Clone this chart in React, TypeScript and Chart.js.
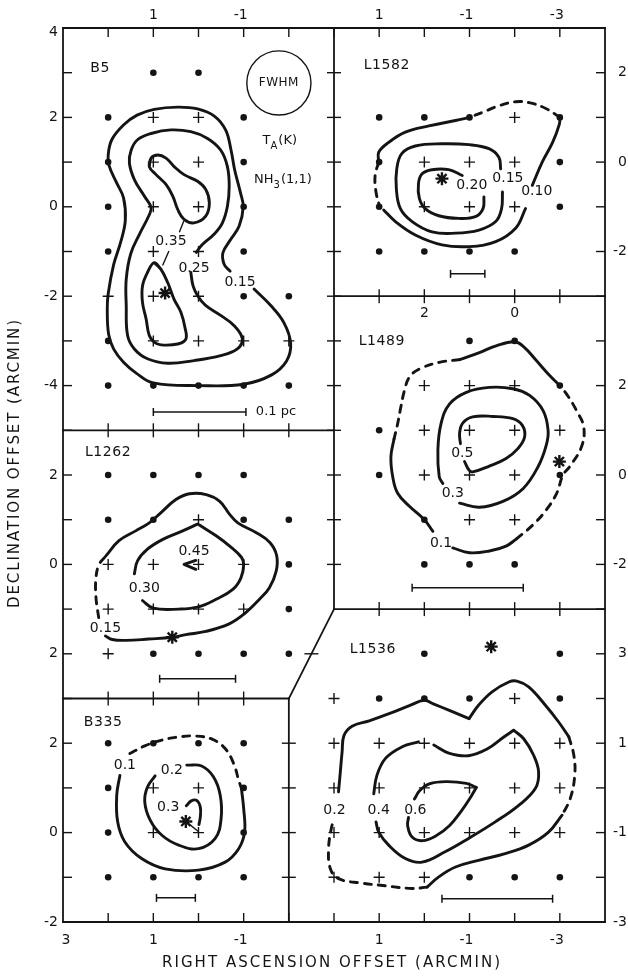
import React, { useEffect, useRef } from "react";
import { Chart, registerables } from "chart.js";

Chart.register(...registerables);

type P = [number, number];
type PanelKey = "B5" | "L1582" | "L1489" | "L1262" | "B335" | "L1536";

const INK = "#141414";
const FONT = '"DejaVu Sans", "Liberation Sans", sans-serif';

// global grid position = offset - local offset (RA increases to the left)
const PANEL_OFFSET: Record<PanelKey, P> = {
  B5: [3, 4],
  L1582: [8, 3],
  L1489: [10, 10],
  L1262: [3, 12],
  B335: [3, 18],
  L1536: [8, 17],
};

// ---------------- B5 ----------------
const B5_DOTS: P[] = [[1, 3], [0, 3], [2, 2], [-1, 2], [2, 1], [-1, 1], [2, 0], [-1, 0], [2, -1], [-1, -1], [-1, -2], [-2, -2], [2, -3], [2, -4], [1, -4], [0, -4], [-1, -4], [-2, -4]];
const B5_PLUS: P[] = [[1, 2], [0, 2], [1, 1], [0, 1], [1, 0], [0, 0], [1, -1], [0, -1], [2, -2], [1, -2], [0, -2], [1, -3], [0, -3], [-1, -3], [-2, -3]];
const B5_STARS: P[] = [[0.74, -1.93]];
const B5_C015: P[] = [[-1.23, -1.84], [-1.6, -2.21], [-1.89, -2.59], [-2.04, -3.05], [-1.95, -3.45], [-1.62, -3.76], [-1.0, -3.97], [0, -4.0], [1.0, -3.94], [1.38, -3.72], [1.66, -3.48], [1.88, -3.18], [1.99, -2.85], [2.02, -2.3], [2.0, -1.95], [1.88, -1.3], [1.72, -0.78], [1.62, -0.3], [1.66, 0.2], [1.82, 0.55], [1.98, 0.92], [2.0, 1.15], [1.92, 1.5], [1.66, 1.83], [1.36, 2.05], [0.98, 2.18], [0.46, 2.23], [0.02, 2.19], [-0.35, 2.03], [-0.6, 1.72], [-0.72, 1.27], [-0.8, 0.83], [-0.93, 0.31], [-0.99, 0], [-0.9, -0.43], [-0.7, -0.75], [-0.54, -1.03], [-0.57, -1.29], [-0.7, -1.44]];
const B5_C025: P[] = [[0.17, -1.47], [0.12, -1.77], [0.02, -1.99], [-0.15, -2.2], [-0.49, -2.43], [-0.79, -2.66], [-0.97, -2.95], [-0.86, -3.18], [-0.49, -3.33], [0.1, -3.44], [0.68, -3.5], [1.13, -3.4], [1.42, -3.18], [1.57, -2.88], [1.6, -2.21], [1.6, -1.62], [1.5, -1.05], [1.3, -0.6], [1.1, -0.2], [1.05, -0.02], [1.2, 0.24], [1.42, 0.61], [1.53, 0.98], [1.49, 1.27], [1.35, 1.5], [1.05, 1.64], [0.61, 1.72], [0.17, 1.68], [-0.2, 1.53], [-0.49, 1.27], [-0.64, 0.9], [-0.68, 0.46], [-0.64, 0.01], [-0.53, -0.36], [-0.35, -0.61], [-0.08, -0.85], [0.05, -1.02]];
const B5_C035_NORTH: P[] = [[1.09, 0.9], [1.05, 1.09], [0.9, 1.16], [0.72, 1.09], [0.54, 0.9], [0.32, 0.72], [0.02, 0.57], [-0.16, 0.39], [-0.24, 0.09], [-0.16, -0.21], [0.1, -0.36], [0.32, -0.28], [0.46, -0.06], [0.57, 0.24], [0.72, 0.5], [0.94, 0.72]];
const B5_C035_SOUTH: P[] = [[0.98, -1.25], [0.83, -1.4], [0.68, -1.7], [0.54, -2.07], [0.39, -2.36], [0.3, -2.7], [0.28, -2.96], [0.46, -3.07], [0.83, -3.09], [0.98, -3.03], [1.09, -2.88], [1.16, -2.51], [1.24, -2.14], [1.24, -1.77], [1.13, -1.47]];
const B5_LEADER_1: P[] = [[0.33, -0.33], [0.42, -0.56]];
const B5_LEADER_2: P[] = [[0.66, -1.0], [0.79, -1.3]];

// ---------------- L1582 ----------------
const L1582_DOTS: P[] = [[1, 1], [0, 1], [-1, 1], [-3, 1], [1, 0], [-3, 0], [1, -1], [-3, -1], [1, -2], [0, -2], [-1, -2], [-2, -2]];
const L1582_PLUS: P[] = [[-2, 1], [0, 0], [-1, 0], [-2, 0], [0, -1], [-1, -1], [-2, -1]];
const L1582_STARS: P[] = [[-0.39, -0.37]];
const L1582_C010_A: P[] = [[-1, 1], [-0.69, 0.93], [-0.1, 0.81], [0.42, 0.67], [0.79, 0.44], [1.01, 0.22], [1.01, 0.0]];
const L1582_C010_B: P[] = [[1.01, 0.0], [1.09, -0.3], [1.07, -0.67], [1.0, -0.96]];
const L1582_C010_C: P[] = [[0.9, -1.07], [0.64, -1.33], [0.2, -1.63], [-0.39, -1.85], [-0.99, -1.89], [-1.58, -1.78], [-2.02, -1.48], [-2.24, -1.04]];
const L1582_C010_D: P[] = [[-2.39, -0.52], [-2.61, 0.0], [-2.84, 0.44], [-2.99, 0.85], [-3, 1]];
const L1582_C010_E: P[] = [[-3, 1], [-2.69, 1.2], [-2.32, 1.33], [-2.02, 1.35], [-1.65, 1.26], [-1.28, 1.11], [-1, 1]];
const L1582_C015: P[] = [[-1.73, -0.67], [-1.71, -1.04], [-1.58, -1.33], [-1.21, -1.52], [-0.69, -1.59], [-0.17, -1.56], [0.27, -1.33], [0.53, -1.04], [0.62, -0.59], [0.61, -0.15], [0.5, 0.19], [0.2, 0.36], [-0.39, 0.41], [-0.99, 0.39], [-1.43, 0.3], [-1.65, 0.11], [-1.69, -0.15]];
const L1582_C020: P[] = [[-0.84, -0.3], [-0.54, -0.17], [-0.17, -0.17], [0.05, -0.26], [0.13, -0.48], [0.11, -0.81], [-0.02, -1.04], [-0.32, -1.2], [-0.76, -1.26], [-1.13, -1.22], [-1.3, -1.04], [-1.32, -0.78]];

// ---------------- L1489 ----------------
const L1489_DOTS: P[] = [[1, 3], [0, 3], [-1, 2], [3, 1], [3, 0], [-1, 0], [2, -1], [2, -2], [1, -2], [0, -2]];
const L1489_PLUS: P[] = [[2, 2], [1, 2], [0, 2], [2, 1], [1, 1], [0, 1], [-1, 1], [2, 0], [1, 0], [0, 0], [1, -1], [0, -1]];
const L1489_STARS: P[] = [[-0.99, 0.3]];
const L1489_C01_A: P[] = [[-1, 2], [-0.78, 2.22], [-0.48, 2.56], [-0.22, 2.85], [0, 2.98], [0.41, 2.89], [0.78, 2.74], [1.22, 2.58]];
const L1489_C01_B: P[] = [[1.22, 2.58], [1.67, 2.52], [2.11, 2.37], [2.33, 2.19], [2.44, 1.89], [2.52, 1.52], [2.59, 1.15], [2.67, 0.81]];
const L1489_C01_C: P[] = [[2.67, 0.81], [2.74, 0.41], [2.7, -0.04], [2.59, -0.41], [2.33, -0.7], [2.0, -1.0], [1.81, -1.26]];
const L1489_C01_D: P[] = [[1.37, -1.63], [1.0, -1.74], [0.56, -1.7], [0.19, -1.59], [-0.04, -1.43]];
const L1489_C01_E: P[] = [[-0.04, -1.43], [-0.41, -1.11], [-0.7, -0.78], [-0.93, -0.41], [-1.07, 0.0], [-1.22, 0.19], [-1.48, 0.63], [-1.53, 1.07], [-1.37, 1.44], [-1.15, 1.81], [-1.0, 2.0]];
const L1489_C03: P[] = [[1.22, -0.63], [0.78, -0.72], [0.26, -0.59], [-0.19, -0.3], [-0.52, 0.19], [-0.7, 0.67], [-0.74, 1.0], [-0.63, 1.44], [-0.33, 1.78], [0.04, 1.93], [0.56, 1.96], [1.07, 1.85], [1.44, 1.59], [1.63, 1.15], [1.7, 0.56], [1.67, -0.04], [1.59, -0.19]];
const L1489_C05: P[] = [[1.11, 0.3], [1.01, 0.11], [0.93, 0.07], [0.56, 0.2], [0.19, 0.37], [-0.07, 0.59], [-0.22, 0.85], [-0.17, 1.11], [0.04, 1.26], [0.48, 1.31], [0.93, 1.3], [1.15, 1.16], [1.22, 0.93], [1.2, 0.7]];

// ---------------- L1262 ----------------
const L1262_DOTS: P[] = [[2, 2], [1, 2], [0, 2], [-1, 2], [2, 1], [1, 1], [-1, 1], [-2, 1], [-2, 0], [-2, -1], [1, -2], [0, -2], [-1, -2], [-2, -2]];
const L1262_PLUS: P[] = [[0, 1], [2, 0], [1, 0], [0, 0], [-1, 0], [2, -1], [1, -1], [0, -1], [-1, -1], [2, -2]];
const L1262_STARS: P[] = [[0.58, -1.63]];
const L1262_C015_A: P[] = [[2.05, 0.19], [1.76, 0.53], [1.39, 0.75], [1.09, 0.93], [0.83, 1.16], [0.5, 1.45], [0.2, 1.58], [-0.17, 1.56], [-0.47, 1.41], [-0.69, 1.12], [-0.87, 0.93], [-1.28, 0.71], [-1.58, 0.49], [-1.73, 0.2], [-1.72, -0.15], [-1.57, -0.52], [-1.35, -0.78], [-1.01, -1.11], [-0.68, -1.33], [-0.16, -1.5], [0.28, -1.57], [0.58, -1.63], [1.1, -1.67], [1.61, -1.7], [1.91, -1.68], [2.06, -1.6]];
const L1262_C015_B: P[] = [[2.21, -1.19], [2.27, -0.74], [2.27, -0.3], [2.2, 0.0], [2.05, 0.19]];
const L1262_C030_A: P[] = [[0.02, 0.9], [0.35, 0.75], [0.79, 0.56], [1.13, 0.34], [1.35, 0.08], [1.42, -0.21]];
const L1262_C030_B: P[] = [[-0.02, 0.88], [-0.39, 0.64], [-0.69, 0.41], [-0.95, 0.16], [-1.0, 0.0], [-0.94, -0.3], [-0.76, -0.56], [-0.39, -0.78], [0, -0.95], [0.43, -1.0], [1.0, -0.98], [1.24, -0.81]];
const L1262_C045: P[] = [[0.06, 0.09], [0.32, 0.0], [0.06, -0.11]];

// ---------------- B335 ----------------
const B335_DOTS: P[] = [[2, 2], [1, 2], [0, 2], [-1, 2], [2, 1], [-1, 1], [2, 0], [-1, 0], [2, -1], [1, -1], [0, -1], [-1, -1]];
const B335_PLUS: P[] = [[1, 1], [0, 1], [1, 0], [0, 0]];
const B335_STARS: P[] = [[0.28, 0.25]];
const B335_C01_A: P[] = [[1.52, 1.77], [1.19, 1.94], [0.81, 2.07], [0.44, 2.14], [0.07, 2.16], [-0.3, 2.09], [-0.59, 1.88], [-0.78, 1.54], [-0.89, 1.17], [-0.95, 0.99]];
const B335_C01_B: P[] = [[-0.95, 0.99], [-1.0, 0.54], [-1.02, 0.01], [-0.89, -0.36], [-0.59, -0.66], [0, -0.84], [0.74, -0.81], [1.26, -0.58], [1.63, -0.21], [1.79, 0.24], [1.81, 0.84], [1.74, 1.28]];
const B335_C02: P[] = [[0.26, 1.51], [-0.07, 1.49], [-0.33, 1.25], [-0.48, 0.84], [-0.5, 0.31], [-0.37, -0.13], [0, -0.36], [0.44, -0.28], [0.81, -0.06], [1.07, 0.28], [1.19, 0.69], [1.13, 1.02], [0.96, 1.27]];
const B335_C03: P[] = [[0.27, 0.6], [0.16, 0.71], [0.04, 0.72], [-0.04, 0.57], [-0.04, 0.35], [-0.01, 0.18]];
const B335_LEADER: P[] = [[0.22, 0.2], [0.01, 0.03]];

// ---------------- L1536 ----------------
const L1536_DOTS: P[] = [[0, 3], [-3, 3], [1, 2], [0, 2], [-1, 2], [-3, 2], [-1, -2], [-2, -2], [-3, -2]];
const L1536_PLUS: P[] = [[2, 2], [-2, 2], [2, 1], [1, 1], [0, 1], [-1, 1], [-2, 1], [-3, 1], [2, 0], [1, 0], [0, 0], [-1, 0], [-2, 0], [-3, 0], [2, -1], [1, -1], [0, -1], [-1, -1], [-2, -1], [-3, -1], [2, -2], [1, -2], [0, -2]];
const L1536_STARS: P[] = [[-1.48, 3.16]];
const L1536_C02_A: P[] = [[1.9, -0.09], [1.86, 0.36], [1.82, 0.81], [1.78, 1.17], [1.6, 1.38], [1.22, 1.5], [0.78, 1.66], [0.33, 1.84], [0.0, 1.96], [-0.2, 1.88], [-0.54, 1.74], [-0.99, 1.55]];
const L1536_C02_B: P[] = [[-0.99, 1.55], [-1.2, 1.85], [-1.5, 2.15], [-1.87, 2.37], [-2.05, 2.39], [-2.31, 2.26], [-2.68, 1.85], [-2.97, 1.48], [-3.2, 1.14]];
const L1536_C02_C: P[] = [[-3.2, 1.14], [-3.31, 0.73], [-3.33, 0.28], [-3.23, -0.24], [-3.05, -0.61]];
const L1536_C02_D: P[] = [[-3.05, -0.61], [-2.75, -0.99], [-2.31, -1.28], [-1.79, -1.47], [-1.2, -1.62], [-0.69, -1.77], [-0.32, -1.99], [-0.06, -2.22]];
const L1536_C02_E: P[] = [[-0.06, -2.22], [0.27, -2.25], [0.86, -2.19], [1.38, -2.13], [1.9, -2.03], [2.08, -1.81], [2.12, -1.36], [2.06, -0.91], [2.01, -0.72]];
const L1536_C04_A: P[] = [[1.07, -0.76], [1.01, -0.99], [0.79, -1.28], [0.42, -1.58], [0.05, -1.66], [-0.46, -1.43], [-0.98, -1.13], [-1.57, -0.76], [-2.09, -0.39], [-2.46, -0.01], [-2.53, 0.36], [-2.42, 0.73], [-2.2, 1.1], [-1.98, 1.29]];
const L1536_C04_B: P[] = [[-1.98, 1.29], [-1.76, 1.14], [-1.39, 0.87], [-0.98, 0.72], [-0.54, 0.78], [-0.21, 0.96]];
const L1536_C04_C: P[] = [[0.13, 1.03], [0.49, 0.92], [0.86, 0.66], [1.05, 0.28], [1.12, -0.13]];
const L1536_C06_A: P[] = [[0.35, -0.66], [0.37, -0.84], [0.27, -1.1], [0.04, -1.18], [-0.26, -1.07], [-0.56, -0.84], [-0.81, -0.53], [-1.0, -0.25], [-1.15, 0.01]];
const L1536_C06_B: P[] = [[-1.15, 0.01], [-0.93, 0.1], [-0.48, 0.14], [-0.11, 0.09], [0.1, -0.06], [0.22, -0.25]];

// scale bars: [x start, x end, y]
const SCALE_BARS: { panel: PanelKey; bar: [number, number, number] }[] = [
  { panel: "B5", bar: [1.0, -1.05, -4.59] },
  { panel: "L1582", bar: [-0.58, -1.34, -2.5] },
  { panel: "L1489", bar: [2.27, -0.19, -2.52] },
  { panel: "L1262", bar: [0.86, -0.82, -2.56] },
  { panel: "B335", bar: [0.93, 0.07, -1.46] },
  { panel: "L1536", bar: [-0.39, -2.84, -2.48] },
];

// tick labels (local values)
const B5_LEFT_TICKS = [4, 2, 0, -2, -4];
const L1262_LEFT_TICKS = [2, 0, -2];
const L1262_LEFT_TEXT = ["2", "0", "2"];
const B335_LEFT_TICKS = [2, 0, -2];
const B5_TOP_TICKS = [1, -1];
const L1582_TOP_TICKS = [1, -1, -3];
const L1582_RIGHT_TICKS = [2, 0, -2];
const L1489_RIGHT_TICKS = [2, 0, -2];
const L1536_RIGHT_TICKS = [3, 1, -1, -3];
const B335_BOTTOM_TICKS = [3, 1, -1];
const L1536_BOTTOM_TICKS = [1, -1, -3];
const L1489_TOP_TICKS = [2, 0];

const PANEL_NAMES: { panel: PanelKey; text: string; at: P }[] = [
  { panel: "B5", text: "B5", at: [2.18, 3.1] },
  { panel: "L1582", text: "L1582", at: [0.83, 2.17] },
  { panel: "L1489", text: "L1489", at: [2.94, 2.98] },
  { panel: "L1262", text: "L1262", at: [2.0, 2.51] },
  { panel: "B335", text: "B335", at: [2.11, 2.47] },
  { panel: "L1536", text: "L1536", at: [1.14, 3.09] },
];

const CONTOUR_LABELS: { panel: PanelKey; text: string; at: P }[] = [
  { panel: "B5", text: "0.35", at: [0.61, -0.77] },
  { panel: "B5", text: "0.25", at: [0.1, -1.37] },
  { panel: "B5", text: "0.15", at: [-0.92, -1.68] },
  { panel: "L1582", text: "0.20", at: [-1.05, -0.51] },
  { panel: "L1582", text: "0.15", at: [-1.85, -0.36] },
  { panel: "L1582", text: "0.10", at: [-2.49, -0.65] },
  { panel: "L1489", text: "0.5", at: [1.16, 0.48] },
  { panel: "L1489", text: "0.3", at: [1.37, -0.41] },
  { panel: "L1489", text: "0.1", at: [1.63, -1.52] },
  { panel: "L1262", text: "0.45", at: [0.1, 0.3] },
  { panel: "L1262", text: "0.30", at: [1.2, -0.54] },
  { panel: "L1262", text: "0.15", at: [2.06, -1.44] },
  { panel: "B335", text: "0.1", at: [1.63, 1.51] },
  { panel: "B335", text: "0.2", at: [0.59, 1.4] },
  { panel: "B335", text: "0.3", at: [0.67, 0.57] },
  { panel: "L1536", text: "0.2", at: [1.99, -0.5] },
  { panel: "L1536", text: "0.4", at: [1.01, -0.5] },
  { panel: "L1536", text: "0.6", at: [0.2, -0.51] },
];

const B5_BEAM_CENTER: P = [-1.78, 2.77];
const B5_BEAM_RADIUS = 0.71;
const B5_TA_AT: P = [-1.8, 1.47];
const B5_NH3_AT: P = [-1.87, 0.6];
const B5_PC_AT: P = [-1.27, -4.59];

// frame lines in global grid units [x1,y1,x2,y2]
const FRAME_LINES: number[][] = [
  [0, 0, 12, 0], [12, 0, 12, 20], [12, 20, 0, 20], [0, 20, 0, 0],
  [6, 0, 6, 13], [6, 6, 12, 6], [6, 13, 12, 13], [0, 9, 6, 9], [0, 15, 5, 15], [5, 15, 5, 20], [6, 13, 5, 15],
];

const SAMPLES: { panel: PanelKey; dots: P[]; plus: P[]; stars: P[] }[] = [
  { panel: "B5", dots: B5_DOTS, plus: B5_PLUS, stars: B5_STARS },
  { panel: "L1582", dots: L1582_DOTS, plus: L1582_PLUS, stars: L1582_STARS },
  { panel: "L1489", dots: L1489_DOTS, plus: L1489_PLUS, stars: L1489_STARS },
  { panel: "L1262", dots: L1262_DOTS, plus: L1262_PLUS, stars: L1262_STARS },
  { panel: "B335", dots: B335_DOTS, plus: B335_PLUS, stars: B335_STARS },
  { panel: "L1536", dots: L1536_DOTS, plus: L1536_PLUS, stars: L1536_STARS },
];

const CONTOURS: { panel: PanelKey; pts: P[]; dash?: boolean; closed?: boolean; tension?: number; width?: number }[] = [
  { panel: "B5", pts: B5_C015 },
  { panel: "B5", pts: B5_C025 },
  { panel: "B5", pts: B5_C035_NORTH, closed: true },
  { panel: "B5", pts: B5_C035_SOUTH, closed: true },
  { panel: "B5", pts: B5_LEADER_1, tension: 0, width: 1.4 },
  { panel: "B5", pts: B5_LEADER_2, tension: 0, width: 1.4 },
  { panel: "L1582", pts: L1582_C010_A },
  { panel: "L1582", pts: L1582_C010_B, dash: true },
  { panel: "L1582", pts: L1582_C010_C },
  { panel: "L1582", pts: L1582_C010_D },
  { panel: "L1582", pts: L1582_C010_E, dash: true },
  { panel: "L1582", pts: L1582_C015 },
  { panel: "L1582", pts: L1582_C020 },
  { panel: "L1489", pts: L1489_C01_A },
  { panel: "L1489", pts: L1489_C01_B, dash: true },
  { panel: "L1489", pts: L1489_C01_C },
  { panel: "L1489", pts: L1489_C01_D },
  { panel: "L1489", pts: L1489_C01_E, dash: true },
  { panel: "L1489", pts: L1489_C03 },
  { panel: "L1489", pts: L1489_C05 },
  { panel: "L1262", pts: L1262_C015_A },
  { panel: "L1262", pts: L1262_C015_B, dash: true },
  { panel: "L1262", pts: L1262_C030_A },
  { panel: "L1262", pts: L1262_C030_B },
  { panel: "L1262", pts: L1262_C045, tension: 0 },
  { panel: "B335", pts: B335_C01_A, dash: true },
  { panel: "B335", pts: B335_C01_B },
  { panel: "B335", pts: B335_C02 },
  { panel: "B335", pts: B335_C03 },
  { panel: "B335", pts: B335_LEADER, tension: 0, width: 1.4 },
  { panel: "L1536", pts: L1536_C02_A },
  { panel: "L1536", pts: L1536_C02_B },
  { panel: "L1536", pts: L1536_C02_C, dash: true },
  { panel: "L1536", pts: L1536_C02_D },
  { panel: "L1536", pts: L1536_C02_E, dash: true },
  { panel: "L1536", pts: L1536_C04_A },
  { panel: "L1536", pts: L1536_C04_B },
  { panel: "L1536", pts: L1536_C04_C },
  { panel: "L1536", pts: L1536_C06_A },
  { panel: "L1536", pts: L1536_C06_B },
];

function toGlobal(panel: PanelKey, p: P) {
  const o = PANEL_OFFSET[panel];
  return { x: o[0] - p[0], y: o[1] - p[1] };
}

// ticks on frame
const TICK_RUNS: { along: "x" | "y"; at: number; from: number; to: number; mode: string }[] = [
  { along: "x", at: 0, from: 1, to: 11, mode: "down" },
  { along: "x", at: 20, from: 1, to: 11, mode: "up" },
  { along: "y", at: 0, from: 1, to: 19, mode: "right" },
  { along: "y", at: 12, from: 1, to: 19, mode: "left" },
  { along: "y", at: 6, from: 1, to: 12, mode: "cross" },
  { along: "x", at: 6, from: 7, to: 11, mode: "cross" },
  { along: "x", at: 13, from: 7, to: 11, mode: "cross" },
  { along: "x", at: 9, from: 1, to: 5, mode: "cross" },
  { along: "x", at: 15, from: 1, to: 4, mode: "cross" },
  { along: "y", at: 5, from: 16, to: 19, mode: "cross" },
];

function drawRich(ctx: CanvasRenderingContext2D, parts: { t: string; sub?: boolean }[], cx: number, cy: number) {
  const big = `13px ${FONT}`;
  const small = `10px ${FONT}`;
  let w = 0;
  for (const p of parts) {
    ctx.font = p.sub ? small : big;
    w += ctx.measureText(p.t).width + (p.sub ? 1 : 0);
  }
  let x = cx - w / 2;
  ctx.textAlign = "left";
  for (const p of parts) {
    ctx.font = p.sub ? small : big;
    ctx.fillText(p.t, x, p.sub ? cy + 5 : cy);
    x += ctx.measureText(p.t).width + (p.sub ? 1 : 0);
  }
}

function spacedText(ctx: CanvasRenderingContext2D, text: string, cx: number, cy: number, width: number) {
  (ctx as any).letterSpacing = "0px";
  const w = ctx.measureText(text).width;
  const ls = (width - w) / (text.length - 1);
  (ctx as any).letterSpacing = `${ls}px`;
  ctx.textAlign = "left";
  ctx.fillText(text, cx - width / 2, cy);
  (ctx as any).letterSpacing = "0px";
}

const figurePlugin = {
  id: "figureFrame",
  beforeDraw(chart: any) {
    const ctx = chart.ctx;
    ctx.save();
    ctx.fillStyle = "#ffffff";
    ctx.fillRect(0, 0, chart.width, chart.height);
    ctx.restore();
  },
  beforeDatasetsDraw(chart: any) {
    const ctx: CanvasRenderingContext2D = chart.ctx;
    const X = (v: number) => chart.scales.x.getPixelForValue(v);
    const Y = (v: number) => chart.scales.y.getPixelForValue(v);
    ctx.save();
    ctx.strokeStyle = INK;
    ctx.lineWidth = 1.8;
    ctx.lineCap = "square";
    for (const s of FRAME_LINES) {
      ctx.beginPath();
      ctx.moveTo(X(s[0]), Y(s[1]));
      ctx.lineTo(X(s[2]), Y(s[3]));
      ctx.stroke();
    }
    ctx.lineWidth = 1.4;
    ctx.lineCap = "butt";
    const L = 9;
    const C = 7;
    for (const r of TICK_RUNS) {
      for (let v = r.from; v <= r.to; v++) {
        const px = r.along === "x" ? X(v) : X(r.at);
        const py = r.along === "x" ? Y(r.at) : Y(v);
        ctx.beginPath();
        if (r.mode === "down") { ctx.moveTo(px, py); ctx.lineTo(px, py + L); }
        else if (r.mode === "up") { ctx.moveTo(px, py); ctx.lineTo(px, py - L); }
        else if (r.mode === "right") { ctx.moveTo(px, py); ctx.lineTo(px + L, py); }
        else if (r.mode === "left") { ctx.moveTo(px, py); ctx.lineTo(px - L, py); }
        else if (r.along === "x") { ctx.moveTo(px, py - C); ctx.lineTo(px, py + C); }
        else { ctx.moveTo(px - C, py); ctx.lineTo(px + C, py); }
        ctx.stroke();
      }
    }
    ctx.beginPath();
    ctx.moveTo(X(5.5) - C, Y(14));
    ctx.lineTo(X(5.5) + C, Y(14));
    ctx.stroke();
    const c = toGlobal("B5", B5_BEAM_CENTER);
    const rad = Math.abs(X(B5_BEAM_RADIUS) - X(0));
    ctx.lineWidth = 1.4;
    ctx.beginPath();
    ctx.arc(X(c.x), Y(c.y), rad, 0, Math.PI * 2);
    ctx.stroke();
    ctx.restore();
  },
  afterDatasetsDraw(chart: any) {
    const ctx: CanvasRenderingContext2D = chart.ctx;
    const X = (v: number) => chart.scales.x.getPixelForValue(v);
    const Y = (v: number) => chart.scales.y.getPixelForValue(v);
    const G = (panel: PanelKey, p: P) => { const g = toGlobal(panel, p); return [X(g.x), Y(g.y)]; };
    ctx.save();
    ctx.fillStyle = INK;
    ctx.textBaseline = "middle";
    ctx.font = `14px ${FONT}`;

    ctx.textAlign = "right";
    B5_LEFT_TICKS.forEach((v) => ctx.fillText(String(v), X(0) - 5, G("B5", [0, v])[1] + (v === 4 ? 4 : 0)));
    L1262_LEFT_TICKS.forEach((v, i) => ctx.fillText(L1262_LEFT_TEXT[i], X(0) - 5, G("L1262", [0, v])[1]));
    B335_LEFT_TICKS.forEach((v) => ctx.fillText(String(v), X(0) - 5, G("B335", [0, v])[1]));
    L1582_RIGHT_TICKS.forEach((v) => ctx.fillText(String(v), X(12) + 22, G("L1582", [0, v])[1]));
    L1489_RIGHT_TICKS.forEach((v) => ctx.fillText(String(v), X(12) + 22, G("L1489", [0, v])[1]));
    L1536_RIGHT_TICKS.forEach((v) => ctx.fillText(String(v), X(12) + 22, G("L1536", [0, v])[1]));
    ctx.textAlign = "center";
    B5_TOP_TICKS.forEach((v) => ctx.fillText(String(v), G("B5", [v, 0])[0] - (v < 0 ? 3 : 0), Y(0) - 13));
    L1582_TOP_TICKS.forEach((v) => ctx.fillText(String(v), G("L1582", [v, 0])[0] - (v < 0 ? 3 : 0), Y(0) - 13));
    B335_BOTTOM_TICKS.forEach((v) => ctx.fillText(String(v), G("B335", [v, 0])[0] - (v < 0 ? 3 : 0) + (v === 3 ? 3 : 0), Y(20) + 18));
    L1536_BOTTOM_TICKS.forEach((v) => ctx.fillText(String(v), G("L1536", [v, 0])[0] - (v < 0 ? 3 : 0), Y(20) + 18));
    L1489_TOP_TICKS.forEach((v) => ctx.fillText(String(v), G("L1489", [v, 0])[0], Y(6) + 17));

    ctx.font = `14px ${FONT}`;
    (ctx as any).letterSpacing = "0.6px";
    for (const n of PANEL_NAMES) {
      const [px, py] = G(n.panel, n.at);
      ctx.fillText(n.text, px, py);
    }
    (ctx as any).letterSpacing = "0px";

    ctx.font = `14px ${FONT}`;
    for (const l of CONTOUR_LABELS) {
      const [px, py] = G(l.panel, l.at);
      ctx.fillText(l.text, px, py);
    }

    const [bx, by] = G("B5", B5_BEAM_CENTER);
    ctx.font = `12px ${FONT}`;
    (ctx as any).letterSpacing = "0.5px";
    ctx.fillText("FWHM", bx, by);
    (ctx as any).letterSpacing = "0px";
    const [tx, ty] = G("B5", B5_TA_AT);
    drawRich(ctx, [{ t: "T" }, { t: "A", sub: true }, { t: "(K)" }], tx, ty);
    const [nx, ny] = G("B5", B5_NH3_AT);
    drawRich(ctx, [{ t: "NH" }, { t: "3", sub: true }, { t: "(1,1)" }], nx, ny);
    const [cx, cy] = G("B5", B5_PC_AT);
    ctx.font = `13px ${FONT}`;
    ctx.textAlign = "left";
    ctx.fillText("0.1 pc", cx, cy);

    ctx.font = `15px ${FONT}`;
    spacedText(ctx, "RIGHT ASCENSION OFFSET (ARCMIN)", 331, 963, 338);
    ctx.save();
    ctx.translate(15, 464);
    ctx.rotate(-Math.PI / 2);
    spacedText(ctx, "DECLINATION OFFSET (ARCMIN)", 0, 0, 288);
    ctx.restore();
    ctx.restore();
  },
};

export default function App() {
  const ref = useRef<HTMLCanvasElement | null>(null);
  useEffect(() => {
    if (!ref.current) return;
    const datasets: any[] = [];
    for (const c of CONTOURS) {
      const pts = c.closed ? [...c.pts, c.pts[0], c.pts[1]] : c.pts;
      datasets.push({
        data: pts.map((p) => toGlobal(c.panel, p)),
        showLine: true,
        borderColor: INK,
        borderWidth: c.width ?? 2.9,
        borderDash: c.dash ? [7, 7] : [],
        borderCapStyle: "round",
        borderJoinStyle: "round",
        tension: c.tension ?? 0.4,
        pointRadius: 0,
        pointHoverRadius: 0,
        fill: false,
        clip: false,
      });
    }
    for (const s of SCALE_BARS) {
      datasets.push({
        data: [toGlobal(s.panel, [s.bar[0], s.bar[2]]), toGlobal(s.panel, [s.bar[1], s.bar[2]])],
        showLine: true,
        borderColor: INK,
        borderWidth: 1.5,
        tension: 0,
        pointStyle: "line",
        pointRotation: 90,
        pointRadius: 4,
        pointBorderWidth: 1.5,
        pointBorderColor: INK,
        pointHoverRadius: 4,
        fill: false,
        clip: false,
      });
    }
    const dots = SAMPLES.flatMap((s) => s.dots.map((p) => toGlobal(s.panel, p)));
    const plus = SAMPLES.flatMap((s) => s.plus.map((p) => toGlobal(s.panel, p)));
    const stars = SAMPLES.flatMap((s) => s.stars.map((p) => toGlobal(s.panel, p)));
    datasets.push({ data: dots, showLine: false, pointStyle: "circle", pointRadius: 3.3, pointBackgroundColor: INK, pointBorderColor: INK, pointBorderWidth: 0, clip: false });
    datasets.push({ data: plus, showLine: false, pointStyle: "cross", pointRadius: 5.5, pointBorderColor: INK, pointBorderWidth: 1.4, clip: false });
    datasets.push({ data: stars, showLine: false, pointStyle: "star", pointRadius: 6.5, pointBorderColor: INK, pointBorderWidth: 2.4, clip: false });

    const chart = new Chart(ref.current, {
      type: "line",
      data: { datasets },
      options: {
        animation: false,
        responsive: false,
        maintainAspectRatio: false,
        events: [],
        layout: { padding: { left: 63, top: 28, right: 23, bottom: 57 } },
        scales: {
          x: { type: "linear", min: 0, max: 12, display: false },
          y: { type: "linear", min: 0, max: 20, reverse: true, display: false },
        },
        plugins: { legend: { display: false }, tooltip: { enabled: false } },
      },
      plugins: [figurePlugin],
    } as any);
    return () => chart.destroy();
  }, []);
  return (
    <div style={{ position: "absolute", left: 0, top: 0, width: 628, height: 979 }}>
      <canvas ref={ref} width={628} height={979} style={{ width: 628, height: 979, display: "block" }} />
    </div>
  );
}
